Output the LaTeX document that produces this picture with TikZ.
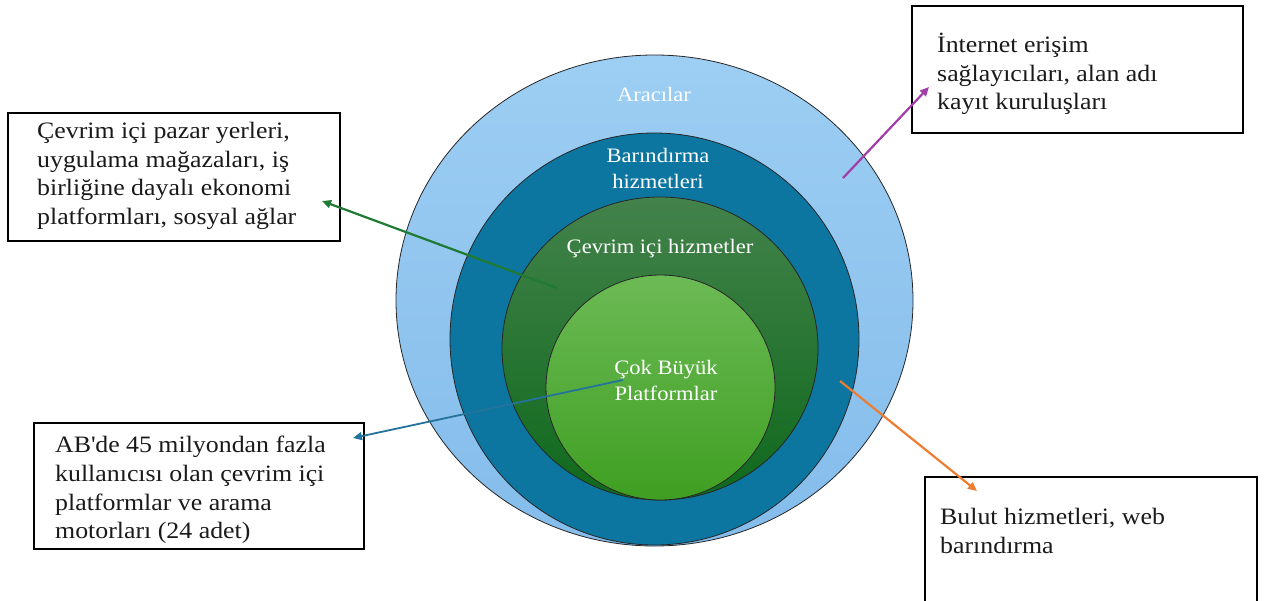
\documentclass[tikz,border=0pt]{standalone}
\usepackage{fontspec}
\setmainfont{Liberation Serif}[FakeStretch=1.1]
\usetikzlibrary{shapes.geometric,arrows.meta}
\definecolor{outertop}{HTML}{9DCEF3}
\definecolor{outerbot}{HTML}{84BCEB}
\definecolor{hostblue}{HTML}{0C76A0}
\definecolor{dgtop}{HTML}{43824B}
\definecolor{dgbot}{HTML}{0F691C}
\definecolor{lgtop}{HTML}{6CBA55}
\definecolor{lgbot}{HTML}{3F9F22}
\definecolor{arrgreen}{HTML}{1F7A34}
\definecolor{arrpurple}{HTML}{A23CA8}
\definecolor{arrblue}{HTML}{23739A}
\definecolor{arrorange}{HTML}{ED7D31}
\definecolor{boxtext}{HTML}{1A1A1A}
\begin{document}
\begin{tikzpicture}[x=1pt,y=-1pt,
  ring/.style={ellipse,draw=black!85,line width=0.8pt,inner sep=0pt,outer sep=0pt},
  infobox/.style={draw=black,line width=1.8pt,inner sep=0pt,outer sep=0pt,anchor=north west},
  boxtxt/.style={anchor=north west,align=left,inner sep=0pt,text=boxtext,font=\fontsize{23.5}{28.7}\selectfont},
  ringtxt/.style={align=center,inner sep=0pt,text=white,font=\fontsize{20.5}{26}\selectfont},
  pointer/.style={line width=2.2pt,-{Triangle[length=9pt,width=8pt]}}
]
\useasboundingbox (0,0) rectangle (1268,601);

% nested circles
\node[ring,top color=outertop,bottom color=outerbot,minimum width=517pt,minimum height=491pt] (aracilar) at (654.5,300.5) {};
\node[ring,fill=hostblue,minimum width=409pt,minimum height=412pt] (barindirma) at (654.5,339) {};
\node[ring,top color=dgtop,bottom color=dgbot,minimum width=316pt,minimum height=303pt] (cevrimici) at (660,348.5) {};
\node[ring,top color=lgtop,bottom color=lgbot,minimum width=229pt,minimum height=225pt] (cokbuyuk) at (660.5,387.5) {};

% ring labels
\node[ringtxt] (lblA) at (654,94) {Aracılar};
\node[ringtxt] (lblB) at (658,168) {Barındırma\\hizmetleri};
\node[ringtxt] (lblC) at (660,249) {Çevrim içi hizmetler};
\node[ringtxt] (lblD) at (666,380) {Çok Büyük\\Platformlar};

% boxes
\node[infobox,minimum width=332pt,minimum height=128pt] (box1) at (8,113) {};
\node[infobox,minimum width=331pt,minimum height=127pt] (box2) at (912,6) {};
\node[infobox,minimum width=330pt,minimum height=126pt] (box3) at (34,423) {};
\node[infobox,minimum width=332pt,minimum height=140pt] (box4) at (925,477) {};

\node[boxtxt] (t1) at (37,122) {Çevrim içi pazar yerleri,\\uygulama mağazaları, iş\\birliğine dayalı ekonomi\\platformları, sosyal ağlar};
\node[boxtxt] (t2) at (937,33) {İnternet erişim\\sağlayıcıları, alan adı\\kayıt kuruluşları};
\node[boxtxt] (t3) at (55,436) {AB\textquotesingle de 45 milyondan fazla\\kullanıcısı olan çevrim içi\\platformlar ve arama\\motorları (24 adet)};
\node[boxtxt] (t4) at (940,508) {Bulut hizmetleri, web\\barındırma};

% pointer coordinates
\coordinate (sP) at (843,178);
\coordinate (eP) at (929,87);
\coordinate (sG) at (557,288);
\coordinate (eG) at (322,201);
\coordinate (sB) at (623,380);
\coordinate (eB) at (353,438);
\coordinate (sO) at (840,381);
\coordinate (eO) at (977,491);

\draw[pointer,arrpurple] (sP) -- (eP);
\draw[pointer,arrgreen] (sG) -- (eG);
\draw[pointer,arrblue,line width=1.8pt] (sB) -- (eB);
\draw[pointer,arrorange] (sO) -- (eO);
\end{tikzpicture}
\end{document}
